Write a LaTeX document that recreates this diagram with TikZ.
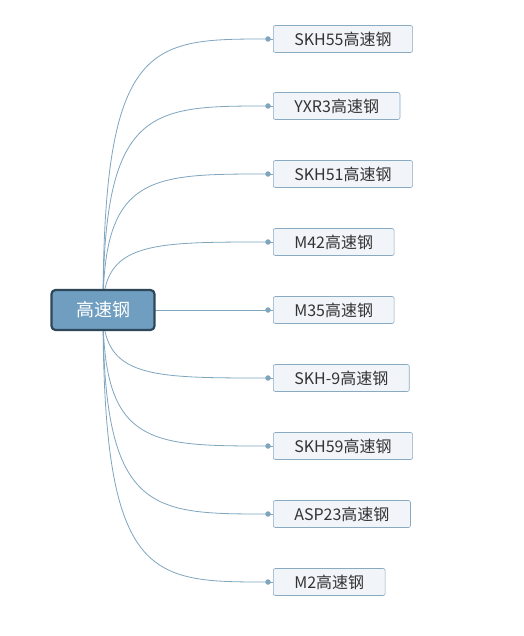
\documentclass[tikz,border=0pt]{standalone}
\usepackage{fontspec}
\setmainfont{Noto Sans CJK SC}
\definecolor{linec}{HTML}{7FA5BF}
\definecolor{leaffill}{HTML}{F1F5F9}
\definecolor{leafdraw}{HTML}{8AAAC2}
\definecolor{rootfill}{HTML}{6F9EC0}
\definecolor{rootdraw}{HTML}{2E4759}
\definecolor{txt}{HTML}{333333}
\begin{document}
\begin{tikzpicture}[x=1pt,y=-1pt,
  leaf/.style={draw=leafdraw,fill=leaffill,rounded corners=2pt,anchor=west,minimum height=27pt,inner xsep=21pt,inner ysep=0pt,text=txt,font=\fontsize{16}{18}\selectfont,line width=0.6pt},
  rootbox/.style={draw=rootdraw,fill=rootfill,rounded corners=4pt,minimum width=103pt,minimum height=40pt,line width=2.2pt,text=white,font=\fontsize{18}{20}\selectfont},
  conn/.style={draw=linec,line width=0.8pt},
  dot/.style={circle,fill=linec,inner sep=0pt,minimum size=5.5pt}]
\useasboundingbox (0,0) rectangle (523,636);
\fill[white] (0,0) rectangle (523,636);
\coordinate (rc) at (103,310);
\foreach \i/\y in {1/39,2/106,3/174,4/242,6/378,7/446,8/514,9/582}{
  \coordinate (d\i) at (268,\y);
  \draw[conn] (rc) .. controls (103,\y) and (150,\y) .. (d\i);
}
\coordinate (d5) at (268,310);
\draw[conn] (rc) -- (d5);
\node[rootbox] (root) at (103,310) {高速钢};
\node[leaf] (n1) at (273,39) {SKH55高速钢};
\node[leaf] (n2) at (273,106) {YXR3高速钢};
\node[leaf] (n3) at (273,174) {SKH51高速钢};
\node[leaf] (n4) at (273,242) {M42高速钢};
\node[leaf] (n5) at (273,310) {M35高速钢};
\node[leaf] (n6) at (273,378) {SKH-9高速钢};
\node[leaf] (n7) at (273,446) {SKH59高速钢};
\node[leaf] (n8) at (273,514) {ASP23高速钢};
\node[leaf] (n9) at (273,582) {M2高速钢};
\foreach \i in {1,...,9}{
  \draw[conn] (d\i) -- (n\i.west);
  \node[dot] at (d\i) {};
}
\end{tikzpicture}
\end{document}
